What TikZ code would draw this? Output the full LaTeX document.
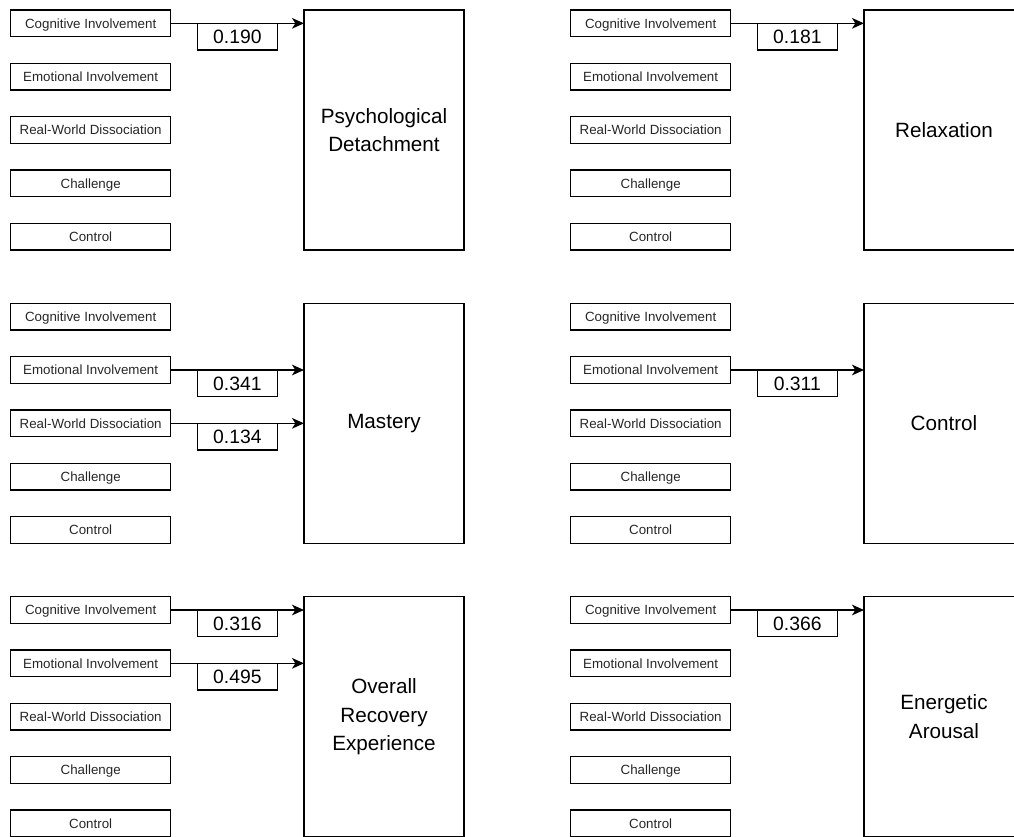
\documentclass[tikz,border=0pt]{standalone}
\usepackage{fontspec}
\setmainfont{Liberation Sans}
\usetikzlibrary{arrows.meta}

\tikzset{
  factor/.style={draw, line width=1.1pt, minimum width=120pt, minimum height=20pt,
    inner sep=0pt, outer sep=0pt, anchor=north west, text=black!85,
    text height=7.9pt, text depth=0.75pt,
    font=\fontsize{10}{12}\selectfont},
  outcome/.style={draw, line width=1.1pt, minimum width=120pt, minimum height=180pt,
    inner sep=0pt, outer sep=0pt, anchor=north west, align=center,
    font=\fontsize{15.5}{21.3}\selectfont},
  coef/.style={draw, line width=1.1pt, minimum width=60pt, minimum height=20pt,
    inner sep=0pt, outer sep=0pt, text height=11.2pt, text depth=0.8pt,
    font=\fontsize{14.5}{16}\selectfont},
  link/.style={line width=1.1pt, -{Stealth[length=9pt,width=8pt,inset=2.5pt]}},
}

% One outcome panel: five predictor boxes on the left, outcome box on the right.
% #1 name prefix, #2 x offset, #3 y offset, #4 outcome title
\newcommand\outcomepanel[4]{%
  \begin{scope}[shift={(#2,#3)}]
    \node[factor] (#1-cog) at (8,7.5)   {Cognitive Involvement};
    \node[factor] (#1-emo) at (8,47.5)  {Emotional Involvement};
    \node[factor] (#1-rwd) at (8,87.5)  {Real-World Dissociation};
    \node[factor] (#1-cha) at (8,127.5) {Challenge};
    \node[factor] (#1-con) at (8,167.5) {Control};
    \node[outcome] (#1-out) at (228,7.5) {#4};
  \end{scope}}

% Significant path with its coefficient hanging under the line
\newcommand\pathcoef[3]{%
  \draw[link] (#1.east) -- (#1.east -| #2.west)
    node[coef, midway, below] {#3};}

\begin{document}
\begin{tikzpicture}[x=1pt, y=-1pt]
  \useasboundingbox (0,0) rectangle (760.5,627);
  \clip (0,0) rectangle (760.5,627);

  \outcomepanel{pd}{0}{0}{Psychological\\Detachment}
  \outcomepanel{rx}{420}{0}{Relaxation}
  \outcomepanel{ms}{0}{220}{Mastery}
  \outcomepanel{ct}{420}{220}{Control}
  \outcomepanel{or}{0}{440}{Overall\\Recovery\\Experience}
  \outcomepanel{ea}{420}{440}{Energetic\\Arousal}

  \pathcoef{pd-cog}{pd-out}{0.190}
  \pathcoef{rx-cog}{rx-out}{0.181}
  \pathcoef{ms-emo}{ms-out}{0.341}
  \pathcoef{ms-rwd}{ms-out}{0.134}
  \pathcoef{ct-emo}{ct-out}{0.311}
  \pathcoef{or-cog}{or-out}{0.316}
  \pathcoef{or-emo}{or-out}{0.495}
  \pathcoef{ea-cog}{ea-out}{0.366}
\end{tikzpicture}
\end{document}
